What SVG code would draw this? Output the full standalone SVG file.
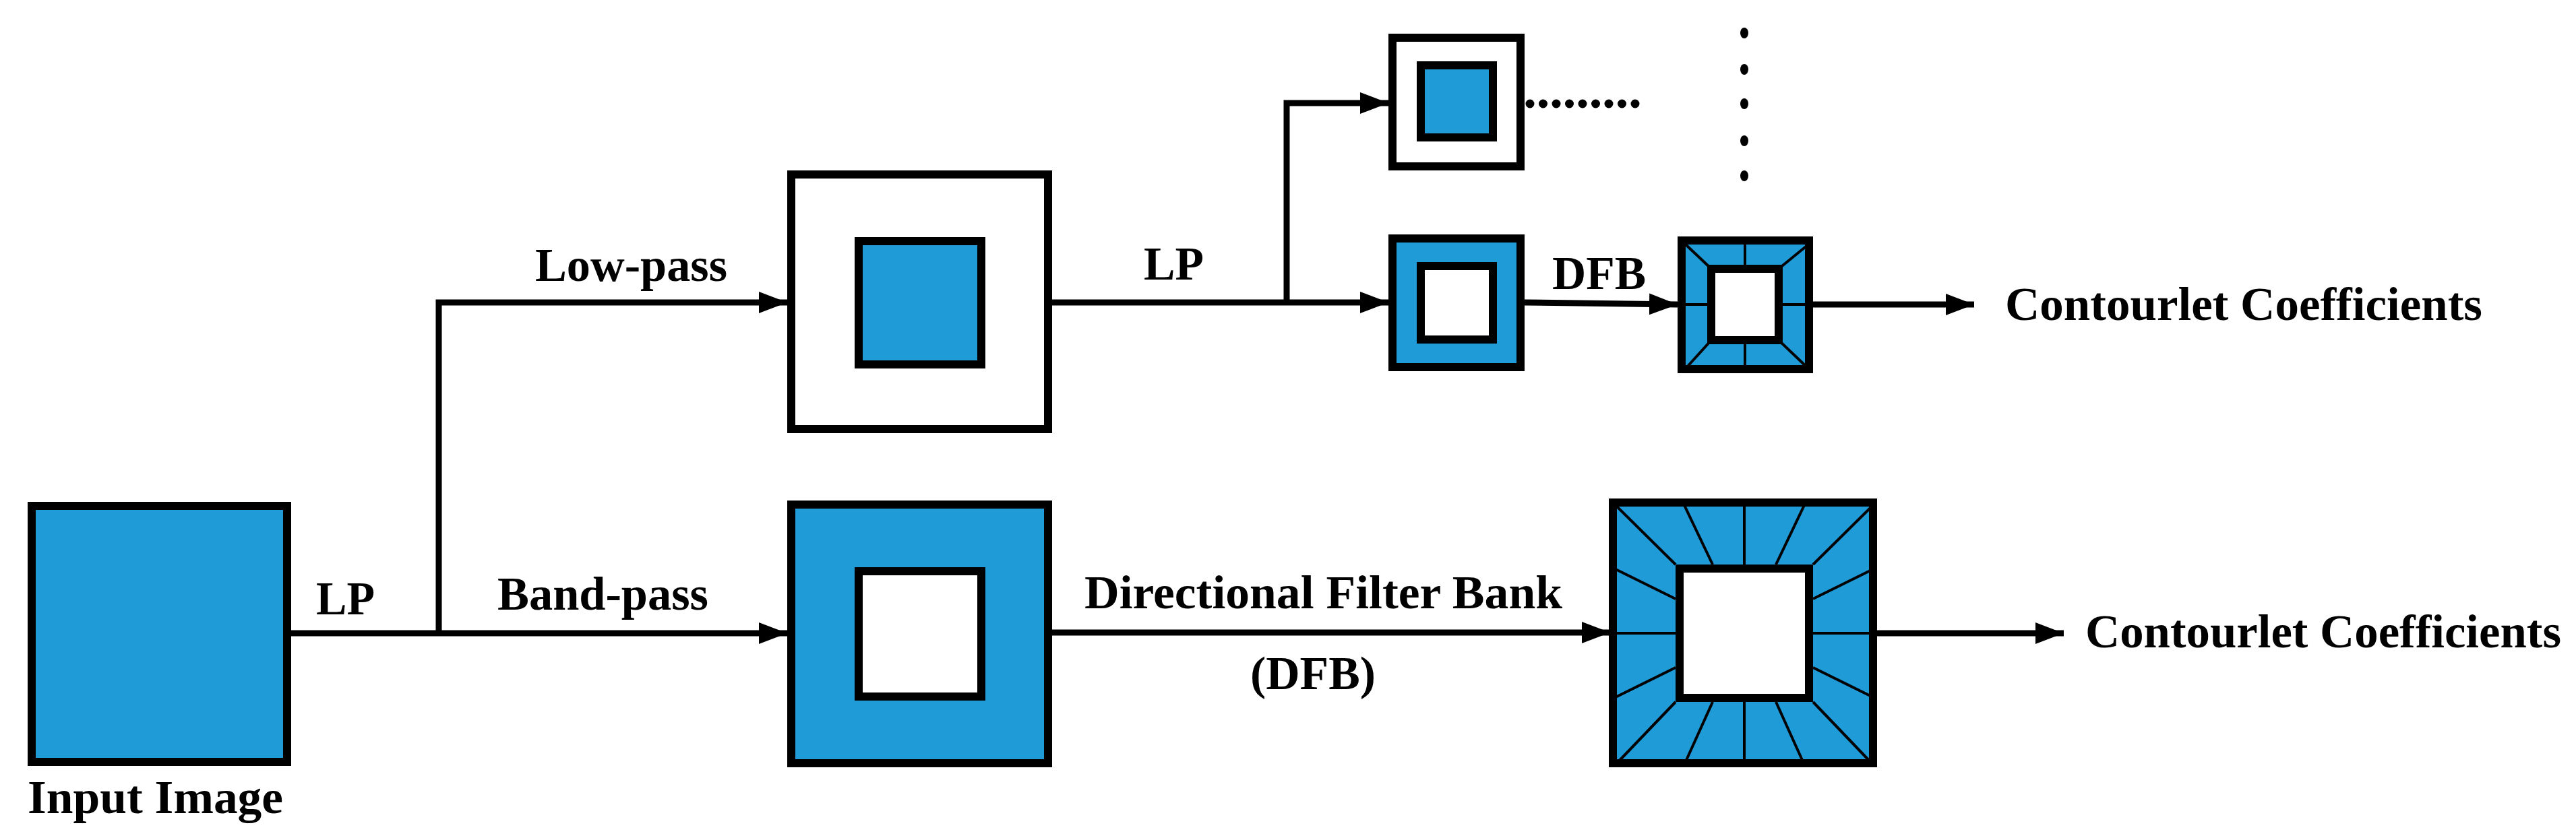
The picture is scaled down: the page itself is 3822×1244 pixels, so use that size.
<svg xmlns="http://www.w3.org/2000/svg" width="3822" height="1244" viewBox="0 0 3822 1244">
<style>
.b{fill:#1F9CD8;stroke:#000;stroke-width:12}
.w{fill:#fff;stroke:#000;stroke-width:12}
.c{fill:none;stroke:#000;stroke-width:9}
.f{stroke:#000;stroke-width:4;fill:none}
text{font-family:"Liberation Serif","Times New Roman",serif;font-weight:bold;font-size:70px;fill:#000}
</style>
<defs>
<marker id="ah" markerUnits="userSpaceOnUse" markerWidth="42" markerHeight="32" refX="42" refY="16" orient="auto" viewBox="0 0 42 32"><path d="M0,0 L42,16 L0,32 z" fill="#000"/></marker>
</defs>
<rect width="3822" height="1244" fill="#fff"/>
<g id="connectors">
<path class="c" d="M432,940 H1168" marker-end="url(#ah)"/>
<path class="c" d="M651,940 V449 H1168" marker-end="url(#ah)"/>
<path class="c" d="M1561,449 H2060" marker-end="url(#ah)"/>
<path class="c" d="M1909,449 V153 H2060" marker-end="url(#ah)"/>
<path class="c" d="M2262,449 L2489,452" marker-end="url(#ah)"/>
<path class="c" d="M2690,452 H2929" marker-end="url(#ah)"/>
<path class="c" d="M1561,939 H2389" marker-end="url(#ah)"/>
<path class="c" d="M2785,940 H3062" marker-end="url(#ah)"/>
<path d="M2270,154 H2436" stroke="#000" stroke-width="13" stroke-linecap="round" stroke-dasharray="0 19.5" fill="none"/>
<g fill="#000">
<ellipse cx="2588" cy="49" rx="6" ry="8"/><ellipse cx="2588" cy="103" rx="6" ry="8"/><ellipse cx="2588" cy="154" rx="6" ry="8"/><ellipse cx="2588" cy="209" rx="6" ry="8"/><ellipse cx="2588" cy="261" rx="6" ry="8"/>
</g>
</g>
<g id="input">
<rect class="b" x="47" y="751" width="379" height="380"/>
<text x="41" y="1207" textLength="379" lengthAdjust="spacingAndGlyphs">Input Image</text>
</g>
<g id="labels">
<text x="469" y="912" textLength="87" lengthAdjust="spacingAndGlyphs">LP</text>
<text x="738" y="905" textLength="313" lengthAdjust="spacingAndGlyphs">Band-pass</text>
<text x="794" y="417" textLength="285" lengthAdjust="spacingAndGlyphs">Low-pass</text>
<text x="1697" y="415" textLength="89" lengthAdjust="spacingAndGlyphs">LP</text>
<text x="2303" y="429" textLength="139" lengthAdjust="spacingAndGlyphs">DFB</text>
<text x="1609" y="903" textLength="709" lengthAdjust="spacingAndGlyphs">Directional Filter Bank</text>
<text x="1855" y="1023" textLength="186" lengthAdjust="spacingAndGlyphs">(DFB)</text>
<text x="2975" y="475" textLength="708" lengthAdjust="spacingAndGlyphs">Contourlet Coefficients</text>
<text x="3094" y="961" textLength="706" lengthAdjust="spacingAndGlyphs">Contourlet Coefficients</text>
</g>
<g id="lowpass">
<rect class="w" x="1174" y="259" width="381" height="378"/>
<rect class="b" x="1274" y="358" width="182" height="183"/>
</g>
<g id="bandpass">
<rect class="b" x="1174" y="749" width="381" height="384"/>
<rect class="w" x="1274" y="848" width="182" height="186"/>
</g>
<g id="lowpass2">
<rect class="w" x="2066" y="56" width="190" height="191"/>
<rect class="b" x="2108" y="97" width="107" height="107"/>
</g>
<g id="bandpass2">
<rect class="b" x="2066" y="354" width="190" height="191"/>
<rect class="w" x="2108" y="395" width="107" height="109"/>
</g>
<g id="dfb-small">
<rect class="b" x="2495" y="357" width="189" height="191"/>
<path class="f" d="M2501,363 L2539,399 M2683,363 L2639,399 M2501,547 L2539,505 M2683,547 L2639,505 M2589,363 V399 M2589,505 V547 M2501,452 H2539 M2639,452 H2683"/>
<rect class="w" x="2539" y="399" width="100" height="106"/>
</g>
<g id="dfb-big">
<rect class="b" x="2393" y="746" width="386" height="387"/>
<path class="f" d="M2397,750 L2486,838 M2499,750 L2541,838 M2588,750 V838 M2677,750 L2635,838 M2779,750 L2690,838
M2397,1135 L2486,1042 M2499,1135 L2541,1042 M2588,1135 V1042 M2677,1135 L2635,1042 M2779,1135 L2690,1042
M2397,845 L2486,889 M2397,940 H2486 M2397,1035 L2486,991
M2779,845 L2690,889 M2779,940 H2690 M2779,1035 L2690,991"/>
<rect class="w" x="2492" y="844" width="192" height="192"/>
</g>
</svg>
